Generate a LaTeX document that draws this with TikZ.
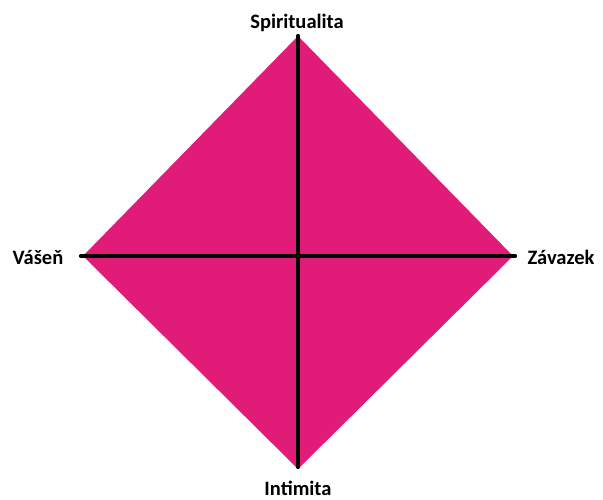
\documentclass[tikz,border=0pt]{standalone}
\usepackage{fontspec}
\setmainfont{Carlito}
\definecolor{pinkfill}{RGB}{224,28,120}
\tikzset{
  axis/.style={line width=4.2pt,line cap=round},
  lbl/.style={font=\bfseries\fontsize{20.5}{24}\selectfont,inner sep=0pt}
}
\begin{document}
\begin{tikzpicture}[x=1pt,y=-1pt]
  \useasboundingbox (0,0) rectangle (603,499);
  \coordinate (top) at (298,36);
  \coordinate (bot) at (298,469);
  \coordinate (lft) at (83,256);
  \coordinate (rgt) at (513,256);
  \fill[pinkfill] (top) -- (rgt) -- (bot) -- (lft) -- cycle;
  \draw[axis] (top) -- ([yshift=2pt]bot);
  \draw[axis] ([xshift=-2pt]lft) -- ([xshift=2pt]rgt);
  \node[lbl] (spir) at (297,23) {Spiritualita};
  \node[lbl] (inti) at (298,488) {Intimita};
  \node[lbl] (vasen) at (38,257) {Vášeň};
  \node[lbl] (zav) at (561,257) {Závazek};
\end{tikzpicture}
\end{document}
